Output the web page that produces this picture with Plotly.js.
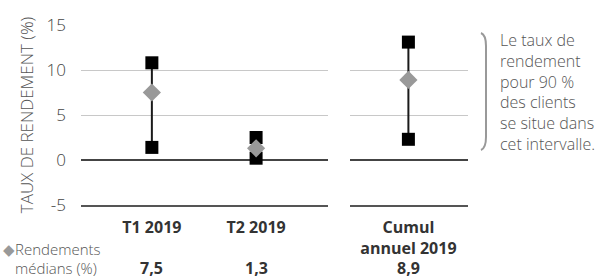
<!DOCTYPE html>
<html><head><meta charset="utf-8">
<script src="https://cdn.plot.ly/plotly-3.0.1.min.js"></script>
<style>html,body{margin:0;padding:0;background:#fff}#chart{width:602px;height:279px}</style>
</head><body><div id="chart"></div>
<script>
const categories1 = ["T1 2019", "T2 2019"];
const categories2 = ["Cumul<br>annuel 2019"];
const lowValues1 = [1.4, 0.2];
const highValues1 = [10.8, 2.5];
const medianValues1 = [7.5, 1.3];
const lowValues2 = [2.3];
const highValues2 = [13.1];
const medianValues2 = [8.9];
const medianLabels = ["7,5", "1,3", "8,9"];
const yTicks = [-5, 0, 5, 10, 15];

const FONT = "Open Sans, sans-serif";

function rangeTraces(cats, lows, highs, meds, xa) {
  const xs = [], ys = [];
  cats.forEach((c, i) => { xs.push(c, c, null); ys.push(lows[i], highs[i], null); });
  return [
    {type:'scatter', mode:'lines', x:xs, y:ys, xaxis:xa, yaxis:'y',
     line:{color:'#1a1a1a', width:2}, hoverinfo:'skip', showlegend:false},
    {type:'scatter', mode:'markers', x:cats.concat(cats), y:lows.concat(highs), xaxis:xa, yaxis:'y',
     marker:{symbol:'square', size:13, color:'#000'}, showlegend:false},
    {type:'scatter', mode:'markers', x:cats, y:meds, xaxis:xa, yaxis:'y',
     marker:{symbol:'diamond', size:14, color:'#999999'}, showlegend:false}
  ];
}

const data = rangeTraces(categories1, lowValues1, highValues1, medianValues1, 'x')
  .concat(rangeTraces(categories2, lowValues2, highValues2, medianValues2, 'x2'));

const allCats = categories1.map(c => ({c, xref:'x'})).concat(categories2.map(c => ({c, xref:'x2'})));
const annotations = allCats.map((o, i) => ({
  x: o.c, xref: o.xref, y: 0, yref: 'paper', yshift: -63, yanchor: 'middle',
  text: '<b>' + medianLabels[i] + '</b>', showarrow: false,
  font: {family: FONT, size: 16, color: '#333'}
}));
annotations.push({
  x: 1/602, xref: 'paper', y: 0, yref: 'paper', xanchor: 'left', yanchor: 'middle', yshift: -44,
  text: '<span style="color:#999">◆</span>Rendements', showarrow: false, align: 'left',
  font: {family: FONT, size: 15, color: '#555', weight: 300}
});
annotations.push({
  x: 13/602, xref: 'paper', y: 0, yref: 'paper', xanchor: 'left', yanchor: 'middle', yshift: -63,
  text: 'médians (%)', showarrow: false, align: 'left',
  font: {family: FONT, size: 15, color: '#555', weight: 300}
});
annotations.push({
  x: 498/602, xref: 'paper', y: 1 - 2/180, yref: 'paper', xanchor: 'left', yanchor: 'top',
  text: 'Le taux de<br>rendement<br>pour 90 %<br>des clients<br>se situe dans<br>cet intervalle.',
  showarrow: false, align: 'left',
  font: {family: FONT, size: 16, color: '#555', weight: 300}
});

const commonX = {
  type: 'category', showgrid: false, zeroline: false, showline: true, linecolor: '#555', linewidth: 2,
  ticks: '', ticklabelstandoff: 7, tickfont: {family: FONT, size: 16, color: '#333', weight: 700}, anchor: 'y', fixedrange: true
};

const layout = {
  width: 602, height: 279,
  margin: {l: 0, r: 0, t: 25, b: 74},
  paper_bgcolor: '#fff', plot_bgcolor: '#fff',
  showlegend: false,
  xaxis: Object.assign({}, commonX, {domain: [81/602, 328/602], range: [-0.68, 1.69]}),
  xaxis2: Object.assign({}, commonX, {domain: [350/602, 468/602], range: [-0.98, 1.0]}),
  yaxis: {
    range: [-5, 15], tickvals: yTicks, ticktext: yTicks.map(v => v < 0 ? '-' + Math.abs(v) : String(v)),
    showgrid: true, gridcolor: '#c8c8c8', gridwidth: 1,
    zeroline: true, zerolinecolor: '#444', zerolinewidth: 2,
    showline: false, ticks: '', ticklabelstandoff: 14,
    tickfont: {family: FONT, size: 17, color: '#444', weight: 300},
    title: {text: 'TAUX DE RENDEMENT (%)', font: {family: FONT, size: 17, color: '#555', weight: 300}, standoff: 8},
    domain: [0, 1], fixedrange: true
  },
  shapes: [{
    type: 'path', xref: 'paper', yref: 'paper', layer: 'above',
    path: 'M ' + (481/602) + ' ' + (1 - 8/180) + ' Q ' + (486/602) + ' ' + (1 - 10/180) + ' ' + (486/602) + ' ' + (1 - 21/180) +
          ' L ' + (486/602) + ' ' + (1 - 112/180) + ' Q ' + (486/602) + ' ' + (1 - 123/180) + ' ' + (481/602) + ' ' + (1 - 125/180),
    line: {color: '#999', width: 2}
  }],
  annotations: annotations
};

Plotly.newPlot('chart', data, layout, {displayModeBar: false, staticPlot: true});
</script></body></html>
